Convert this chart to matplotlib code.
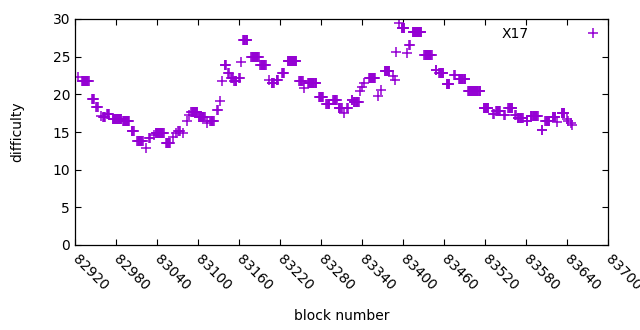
import numpy as np
import matplotlib
matplotlib.use("Agg")
import matplotlib.pyplot as plt

# Runs of blocks sharing the same difficulty (start block, end block, difficulty)
run_start = [82924, 82930, 82945, 82951, 82958, 82961, 82967, 82975, 82990, 83003,
             83011, 83024, 83029, 83036, 83038, 83053, 83063, 83068, 83071, 83078,
             83084, 83087, 83090, 83101, 83113, 83118, 83128, 83132, 83135, 83139,
             83144, 83149, 83153, 83160, 83163, 83166, 83178, 83191, 83204, 83208,
             83215, 83223, 83231, 83248, 83255, 83261, 83277, 83288, 83298, 83306,
             83314, 83318, 83325, 83328, 83337, 83340, 83343, 83350, 83363, 83368,
             83373, 83385, 83388, 83390, 83394, 83398, 83406, 83409, 83414, 83431,
             83448, 83453, 83464, 83475, 83482, 83495, 83518, 83532, 83536, 83548,
             83554, 83564, 83568, 83581, 83587, 83603, 83608, 83619, 83625, 83632,
             83640, 83642, 83646, 83648]
run_end = [82924, 82940, 82948, 82953, 82958, 82964, 82970, 82988, 82999, 83006,
           83019, 83024, 83030, 83036, 83050, 83059, 83063, 83068, 83073, 83078,
           83084, 83087, 83099, 83110, 83113, 83123, 83129, 83132, 83135, 83141,
           83145, 83151, 83156, 83161, 83163, 83172, 83189, 83199, 83204, 83211,
           83217, 83226, 83244, 83253, 83255, 83273, 83283, 83292, 83303, 83310,
           83314, 83319, 83326, 83335, 83337, 83340, 83343, 83359, 83363, 83368,
           83380, 83385, 83388, 83390, 83394, 83402, 83406, 83410, 83427, 83442,
           83449, 83459, 83468, 83476, 83491, 83513, 83525, 83533, 83542, 83549,
           83560, 83565, 83575, 83582, 83597, 83604, 83614, 83623, 83625, 83636,
           83640, 83642, 83646, 83648]
run_difficulty = [22.3, 21.8, 19.4, 18.3, 17.1, 17.0, 17.4, 16.7, 16.5, 15.1,
                  13.8, 12.9, 14.2, 14.6, 14.9, 13.5, 14.3, 14.9, 15.1, 14.9,
                  16.5, 17.2, 17.7, 17.0, 16.2, 16.5, 17.9, 19.1, 21.8, 23.9,
                  22.8, 22.2, 21.8, 22.2, 24.3, 27.2, 24.9, 23.9, 21.9, 21.5,
                  21.9, 22.8, 24.4, 21.8, 20.8, 21.5, 19.6, 18.7, 19.2, 18.2,
                  17.5, 18.2, 19.2, 19.0, 20.4, 21.0, 21.5, 22.2, 19.8, 20.6,
                  23.1, 22.4, 21.9, 25.6, 29.5, 28.8, 25.5, 26.5, 28.3, 25.2,
                  23.2, 22.8, 21.4, 22.6, 22.0, 20.4, 18.2, 17.4, 17.8, 17.2,
                  18.2, 17.2, 16.9, 16.5, 17.1, 15.3, 16.5, 17.0, 16.3, 17.5,
                  16.7, 16.5, 16.2, 15.9]

x_ticks = list(range(82920, 83701, 60))
y_ticks = [0, 5, 10, 15, 20, 25, 30]

blocks = np.concatenate([np.arange(s, e + 1) for s, e in zip(run_start, run_end)])
difficulty = np.concatenate([np.full(e - s + 1, d) for s, e, d in zip(run_start, run_end, run_difficulty)])

plt.rcParams['font.family'] = ['DejaVu Sans']
plt.rcParams['font.size'] = 10

fig = plt.figure(figsize=(6.4, 3.3), dpi=100)
ax = fig.add_axes([75/640, 1 - 245/330, (608 - 75)/640, (245 - 19)/330])

ax.plot(blocks, difficulty, linestyle='none', marker='+', markersize=6.5,
        markeredgewidth=1.1, color='#9400d3', label='X17')

ax.set_xlim(82920, 83700)
ax.set_ylim(0, 30)
ax.set_xticks(x_ticks)
ax.set_yticks(y_ticks)
ax.set_xticklabels([str(t) for t in x_ticks], rotation=-45, ha='left', va='center',
                   rotation_mode='anchor')
ax.tick_params(direction='in', length=4, width=0.8, top=True, right=True,
               colors='black', labelsize=10)
ax.tick_params(axis='x', pad=9)
for sp in ax.spines.values():
    sp.set_linewidth(0.9)

ax.set_xlabel('block number', labelpad=11)
ax.set_ylabel('difficulty', labelpad=20)

leg = ax.legend(loc='upper right', frameon=False, markerfirst=False,
                handlelength=1.0, handletextpad=4.1, borderaxespad=0.2,
                borderpad=0.4, fontsize=10)

fig.savefig('out.png', dpi=100)
